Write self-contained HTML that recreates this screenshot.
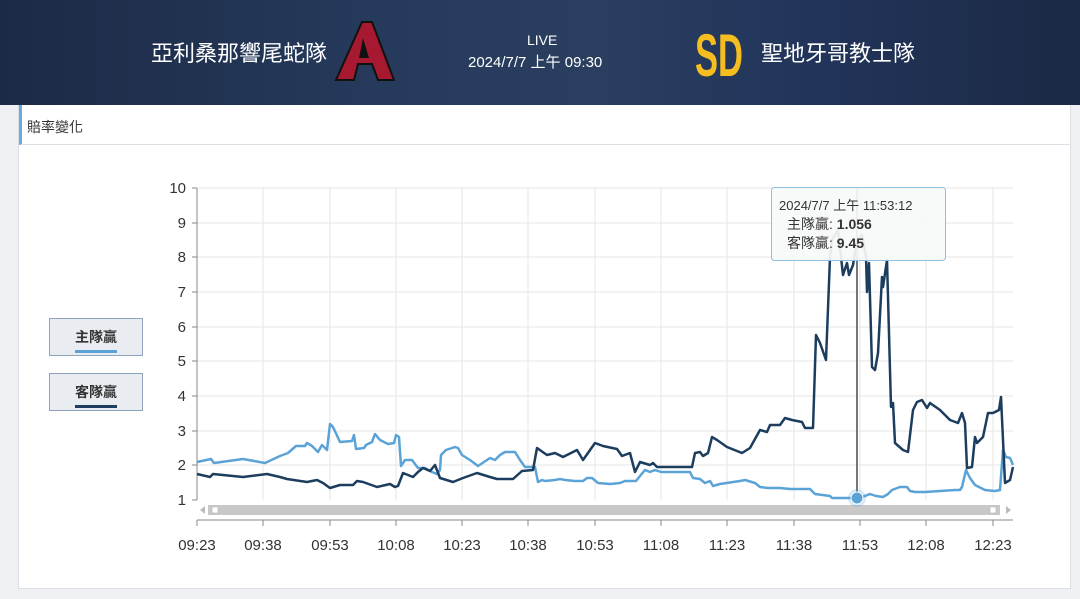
<!DOCTYPE html>
<html><head><meta charset="utf-8"><style>
body{margin:0;width:1080px;height:599px;overflow:hidden;background:#eef0f3;font-family:"Liberation Sans","Noto Sans CJK TC",sans-serif;position:relative}
.hdr{position:absolute;left:0;top:0;width:1080px;height:105px;background:linear-gradient(90deg,#1c2a45 0%,#263a5c 35%,#2a3f60 55%,#22345a 75%,#1b2944 100%)}
.t{position:absolute;color:#fff;font-size:22px}
.card{position:absolute;left:18px;top:105px;width:1051px;height:483px;background:#fff;border:1px solid #dcdfe4;border-top:none}
.ttl{position:absolute;left:0;top:0;width:1051px;height:40px;border-left:3px solid #6aa9dc;border-bottom:1px solid #dcdfe4;box-sizing:border-box;font-size:14px;color:#333;padding:12px 0 0 5px}
.lg{position:absolute;left:49px;width:94px;height:38px;border:1px solid #8da2bd;background:#e9ecf1;box-sizing:border-box;text-align:center;font-size:14px;font-weight:bold;color:#333;padding-top:8px}
.lg i{display:block;width:42px;height:3px;margin:3px auto 0}
</style></head><body>
<div class="hdr"></div>
<div class="t" style="left:151px;top:36px">亞利桑那響尾蛇隊</div>
<svg style="position:absolute;left:332px;top:20px" width="66" height="62"><polygon points="30,2 40,2 62,60 46,60 40,44 26,44 22,60 4,60" fill="#a71930" stroke="#111" stroke-width="2"/><polygon points="31,18 37,38 27,38" fill="#111"/></svg>
<div class="t" style="left:527px;top:32px;font-size:14px">LIVE</div>
<div class="t" style="left:468px;top:51px;font-size:15px">2024/7/7 上午 09:30</div>
<svg style="position:absolute;left:695px;top:18px" width="50" height="64"><text x="0" y="58" font-family="Liberation Sans" font-weight="bold" font-size="60" fill="#f5bd1f" textLength="48" lengthAdjust="spacingAndGlyphs">SD</text></svg>
<div class="t" style="left:761px;top:36px">聖地牙哥教士隊</div>
<div class="card"><div class="ttl">賠率變化</div></div>
<div class="lg" style="top:318px">主隊贏<i style="background:#5ba3d6"></i></div>
<div class="lg" style="top:373px">客隊贏<i style="background:#1c3d5e"></i></div>
<svg style="position:absolute;left:0;top:0" width="1080" height="599">
<g stroke="#e6e6e6" stroke-width="1">
<line x1="197" x2="1013" y1="188" y2="188"/><line x1="197" x2="1013" y1="223" y2="223"/><line x1="197" x2="1013" y1="257" y2="257"/><line x1="197" x2="1013" y1="292" y2="292"/><line x1="197" x2="1013" y1="327" y2="327"/><line x1="197" x2="1013" y1="361" y2="361"/><line x1="197" x2="1013" y1="396" y2="396"/><line x1="197" x2="1013" y1="431" y2="431"/><line x1="197" x2="1013" y1="465" y2="465"/>
<line x1="263" x2="263" y1="188" y2="500"/><line x1="330" x2="330" y1="188" y2="500"/><line x1="396" x2="396" y1="188" y2="500"/><line x1="462" x2="462" y1="188" y2="500"/><line x1="528" x2="528" y1="188" y2="500"/><line x1="595" x2="595" y1="188" y2="500"/><line x1="661" x2="661" y1="188" y2="500"/><line x1="727" x2="727" y1="188" y2="500"/><line x1="794" x2="794" y1="188" y2="500"/><line x1="860" x2="860" y1="188" y2="500"/><line x1="926" x2="926" y1="188" y2="500"/><line x1="993" x2="993" y1="188" y2="500"/>
</g>
<g stroke="#888" stroke-width="1"><line x1="197" x2="197" y1="188" y2="500"/><line x1="192" x2="197" y1="188" y2="188"/><line x1="192" x2="197" y1="223" y2="223"/><line x1="192" x2="197" y1="257" y2="257"/><line x1="192" x2="197" y1="292" y2="292"/><line x1="192" x2="197" y1="327" y2="327"/><line x1="192" x2="197" y1="361" y2="361"/><line x1="192" x2="197" y1="396" y2="396"/><line x1="192" x2="197" y1="431" y2="431"/><line x1="192" x2="197" y1="465" y2="465"/><line x1="192" x2="197" y1="500" y2="500"/>
<line x1="197" x2="1013" y1="520" y2="520"/>
<line x1="197" x2="197" y1="520" y2="526"/><line x1="263" x2="263" y1="520" y2="526"/><line x1="330" x2="330" y1="520" y2="526"/><line x1="396" x2="396" y1="520" y2="526"/><line x1="462" x2="462" y1="520" y2="526"/><line x1="528" x2="528" y1="520" y2="526"/><line x1="595" x2="595" y1="520" y2="526"/><line x1="661" x2="661" y1="520" y2="526"/><line x1="727" x2="727" y1="520" y2="526"/><line x1="794" x2="794" y1="520" y2="526"/><line x1="860" x2="860" y1="520" y2="526"/><line x1="926" x2="926" y1="520" y2="526"/><line x1="993" x2="993" y1="520" y2="526"/></g>
<g font-size="15" fill="#333" text-anchor="end" font-family="Liberation Sans"><text x="186" y="193">10</text><text x="186" y="228">9</text><text x="186" y="262">8</text><text x="186" y="297">7</text><text x="186" y="332">6</text><text x="186" y="366">5</text><text x="186" y="401">4</text><text x="186" y="436">3</text><text x="186" y="470">2</text><text x="186" y="505">1</text></g>
<g font-size="15" fill="#333" text-anchor="middle" font-family="Liberation Sans"><text x="197" y="550">09:23</text><text x="263" y="550">09:38</text><text x="330" y="550">09:53</text><text x="396" y="550">10:08</text><text x="462" y="550">10:23</text><text x="528" y="550">10:38</text><text x="595" y="550">10:53</text><text x="661" y="550">11:08</text><text x="727" y="550">11:23</text><text x="794" y="550">11:38</text><text x="860" y="550">11:53</text><text x="926" y="550">12:08</text><text x="993" y="550">12:23</text></g>
<rect x="208" y="505" width="792" height="10" fill="#c8c8c8"/><rect x="212" y="507" width="6" height="6" fill="#fff" stroke="#aaa" stroke-width=".5"/><rect x="990" y="507" width="6" height="6" fill="#fff" stroke="#aaa" stroke-width=".5"/>
<polygon points="200,510 205,506 205,514" fill="#bbb"/><polygon points="1011,510 1006,506 1006,514" fill="#bbb"/>
<polyline fill="none" stroke="#5ba3d6" stroke-width="2.5" stroke-linejoin="round" points="197,462 211,459 214,463 243,459 265,463 280,456 288,453 296,446 305,446 307,443 312,446 318,452 322,445 327,450 330,424 333,427 340,442 352,441 354,435 356,449 364,448 366,445 372,442 375,434 380,440 388,444 394,443 396,435 399,437 401,466 405,460 412,460 418,468 425,468 432,472 437,474 440,470 441,455 446,450 455,447 458,448 462,455 470,460 478,466 490,458 495,460 500,455 505,452 515,452 520,460 525,467 535,467 538,482 542,480 545,481 555,480 560,479 565,480 575,481 583,481 587,478 592,478 598,483 610,484 620,483 625,481 636,481 640,476 645,470 650,472 655,470 661,472 690,472 693,478 700,479 705,483 710,481 713,486 720,484 740,481 745,480 755,483 760,487 768,488 780,488 790,489 810,489 815,494 830,496 832,498 857,498 865,496 870,494 876,496 883,497 888,494 892,490 900,487 907,487 910,491 915,492 925,492 940,491 955,490 960,490 962,487 966,470 970,478 975,485 985,490 995,491 1000,490 1003,450 1006,457 1010,458 1013,465"/>
<polyline fill="none" stroke="#1c3d5e" stroke-width="2.5" stroke-linejoin="round" points="197,474 210,477 213,474 243,477 267,474 280,477 287,479 307,482 317,480 323,483 330,488 340,485 353,485 357,481 363,482 377,487 390,484 395,487 398,486 403,473 413,477 418,472 423,468 430,471 435,465 440,478 453,482 463,478 477,473 490,477 497,479 513,479 522,471 533,470 537,448 547,455 555,453 563,457 577,450 583,460 595,443 603,446 617,449 622,456 630,453 635,472 640,462 650,465 653,463 657,467 692,467 695,453 700,452 703,456 708,453 712,437 717,440 727,447 742,453 750,448 760,430 767,432 770,425 780,425 785,418 792,420 802,422 805,428 813,428 816,335 820,343 826,360 830,257 832,240 838,230 843,275 847,263 849,275 853,265 857,240 862,235 866,257 867,292 869,263 872,367 875,370 878,353 882,277 883,287 887,260 891,407 893,403 895,443 903,450 908,452 913,410 917,402 922,400 927,408 930,403 940,410 950,420 958,423 962,413 965,423 967,468 972,467 975,437 977,443 983,437 988,413 993,413 999,410 1001,397 1005,483 1010,480 1013,467"/>
<line x1="857" x2="857" y1="188" y2="498" stroke="#777" stroke-width="2"/>
<circle cx="857" cy="498" r="9" fill="#5ba3d6" opacity=".25"/><circle cx="857" cy="498" r="6" fill="#5ba3d6" stroke="#fff" stroke-width="1"/>
<rect x="771.5" y="187.5" width="174" height="73" rx="3" fill="#f7f8f9" fill-opacity=".92" stroke="#8fbfe0"/>
<text x="779" y="210" font-size="13" fill="#333">2024/7/7 上午 11:53:12</text>
<text x="787" y="229" font-size="14" fill="#333">主隊贏: <tspan font-weight="bold">1.056</tspan></text>
<text x="787" y="248" font-size="14" fill="#333">客隊贏: <tspan font-weight="bold">9.45</tspan></text>
</svg>
</body></html>
